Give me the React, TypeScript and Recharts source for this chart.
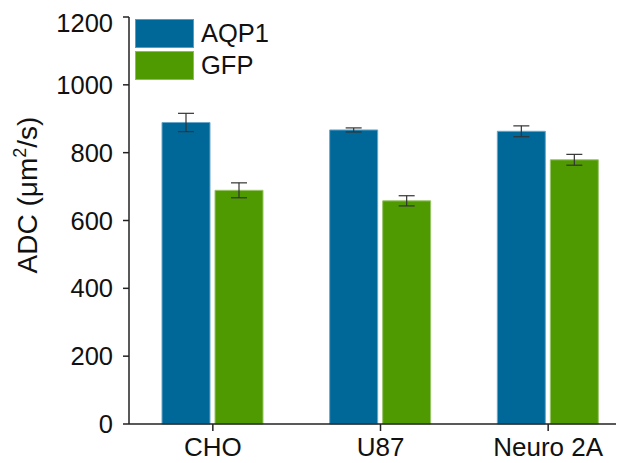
import { Bar, BarChart, ErrorBar, XAxis, YAxis } from "recharts";

const categories = ["CHO", "U87", "Neuro 2A"];
const aqp1 = [889, 867, 863];
const aqp1Err = [27, 6, 16];
const gfp = [689, 658, 779];
const gfpErr = [22, 15, 16];
const yTicks = [0, 200, 400, 600, 800, 1000, 1200];

const BLUE = "#006899";
const GREEN = "#4f9a00";
const FONT = "'Liberation Sans', Arial, sans-serif";

const data = categories.map((name, i) => ({
  name,
  aqp1: aqp1[i],
  aqp1Err: aqp1Err[i],
  gfp: gfp[i],
  gfpErr: gfpErr[i],
}));

const legendItems = [
  { label: "AQP1", color: BLUE },
  { label: "GFP", color: GREEN },
];

function LegendBox() {
  return (
    <div style={{ position: "absolute", top: 11, left: 127, display: "flex", flexDirection: "column", gap: 3 }}>
      {legendItems.map((it) => (
        <div key={it.label} style={{ display: "flex", alignItems: "center" }}>
          <div style={{ width: 59, height: 29, background: it.color, boxSizing: "border-box", border: "1px solid rgba(255,255,255,0.35)" }} />
          <span style={{ marginLeft: 7, fontSize: 25.5, color: "#111", fontFamily: FONT, lineHeight: "29px" }}>
            {it.label}
          </span>
        </div>
      ))}
    </div>
  );
}

function YLabel() {
  const x = 29;
  const y = 187;
  return (
    <text
      x={x}
      y={y}
      transform={`rotate(-90, ${x}, ${y})`}
      textAnchor="middle"
      fontSize={28}
      fill="#111"
      fontFamily={FONT}
    >
      ADC (μm
      <tspan dy={-11} fontSize={18}>2</tspan>
      <tspan dy={11}>/s)</tspan>
    </text>
  );
}

export default function App() {
  return (
    <div style={{ width: 616, height: 455, fontFamily: FONT, position: "relative" }}>
      <BarChart
        width={616}
        height={455}
        data={data}
        margin={{ top: 9, right: 0, bottom: 0, left: 0 }}
        barSize={48}
        barGap={5}
      >
        <XAxis
          dataKey="name"
          height={39}
          padding={{ left: 0, right: -8 }}
          tickSize={7}
          tickMargin={7}
          fontSize={26}
          axisLine={{ stroke: "#222", strokeWidth: 1.5 }}
          tickLine={{ stroke: "#222", strokeWidth: 1.5 }}
          tick={{ fontSize: 26, fill: "#111", fontFamily: FONT }}
        />
        <YAxis
          width={121}
          domain={[0, 1200]}
          ticks={yTicks}
          tickSize={6}
          tickMargin={10}
          fontSize={25.5}
          axisLine={{ stroke: "#222", strokeWidth: 1.5 }}
          tickLine={{ stroke: "#222", strokeWidth: 1.5 }}
          tick={{ fontSize: 25.5, fill: "#111", fontFamily: FONT }}
          label={<YLabel />}
        />
        <Bar dataKey="aqp1" name="AQP1" fill={BLUE} stroke="#6aa6c8" strokeWidth={1} isAnimationActive={false}>
          <ErrorBar dataKey="aqp1Err" width={8} stroke="#333" strokeWidth={1.2} isAnimationActive={false} />
        </Bar>
        <Bar dataKey="gfp" name="GFP" fill={GREEN} stroke="#99c46a" strokeWidth={1} isAnimationActive={false}>
          <ErrorBar dataKey="gfpErr" width={8} stroke="#333" strokeWidth={1.2} isAnimationActive={false} />
        </Bar>
      </BarChart>
      <LegendBox />
    </div>
  );
}
